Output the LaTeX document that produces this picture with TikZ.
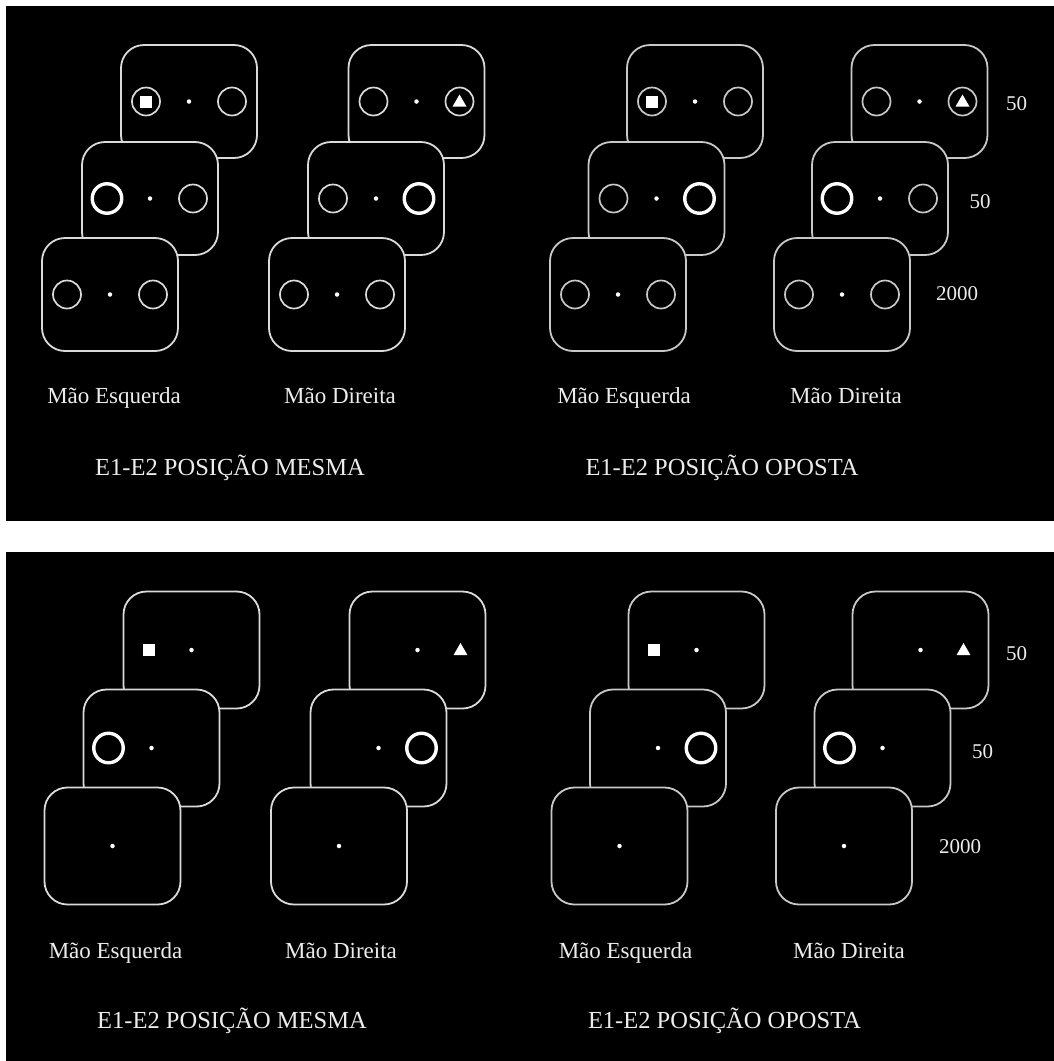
\documentclass[tikz,border=0pt]{standalone}
\usepackage{fontspec}
\setmainfont{Liberation Serif}
\usetikzlibrary{shapes.geometric}
\definecolor{lineL}{RGB}{218,218,218}
\definecolor{lineR}{RGB}{200,200,200}
\definecolor{txt}{RGB}{236,236,236}
\colorlet{lncol}{lineL}
\tikzset{
  frm/.style={rectangle, draw=lncol, line width=1.8pt, fill=black, rounded corners=23pt, minimum width=136pt, inner sep=0pt},
  thinc/.style={circle, draw=lncol, line width=1.7pt, minimum size=28pt, inner sep=0pt},
  boldc/.style={circle, draw=white, line width=3.4pt, minimum size=29.5pt, inner sep=0pt},
  nonec/.style={circle, minimum size=28pt, inner sep=0pt},
  fixdot/.style={circle, fill=white, minimum size=4.5pt, inner sep=0pt},
  sqr/.style={rectangle, fill=white, minimum size=12pt, inner sep=0pt},
  tri/.style={regular polygon, regular polygon sides=3, fill=white, minimum size=16pt, inner sep=0pt, yshift=-1pt},
  lab/.style={text=txt, font=\fontsize{23}{26}\selectfont, anchor=base, inner sep=0pt},
  ttl/.style={text=txt, font=\fontsize{24.5}{28}\selectfont, anchor=base, inner sep=0pt},
  num/.style={text=txt, font=\fontsize{21}{24}\selectfont, anchor=base, inner sep=0pt},
}
% #1 name, #2 x, #3 y, #4 height, #5 left style, #6 right style
\newcommand{\stim}[6]{%
  \node[frm, minimum height=#4] (#1) at (#2,#3) {};
  \node[fixdot] (#1-fix) at (#1.center) {};
  \node[#5] (#1-l) at ([xshift=-43pt]#1.center) {};
  \node[#6] (#1-r) at ([xshift=43pt]#1.center) {};
}
\begin{document}
\begin{tikzpicture}[x=1pt,y=-1pt]
\fill[white] (0,0) rectangle (1054,1061);
\useasboundingbox (0,0) rectangle (1054,1061);
\fill[black] (6,6) rectangle (1054,521);
\fill[black] (6,552) rectangle (1054,1061);

% ================= TOP PANEL =================
\begin{scope}
\colorlet{lncol}{lineL}
% group A
\stim{TAb}{189}{101.5}{113}{thinc}{thinc}
\node[sqr] (TAb-sq) at (TAb-l) {};
\stim{TAm}{150}{198.5}{113}{boldc}{thinc}
\stim{TAf}{110}{294.5}{113}{thinc}{thinc}
% group B
\stim{TBb}{416.5}{101.5}{113}{thinc}{thinc}
\node[tri] (TBb-tri) at (TBb-r) {};
\stim{TBm}{376}{198.5}{113}{thinc}{boldc}
\stim{TBf}{337}{294.5}{113}{thinc}{thinc}
\end{scope}
\begin{scope}
\colorlet{lncol}{lineR}
% group C
\stim{TCb}{695}{101.5}{113}{thinc}{thinc}
\node[sqr] (TCb-sq) at (TCb-l) {};
\stim{TCm}{656.5}{198.5}{113}{thinc}{boldc}
\stim{TCf}{618}{294.5}{113}{thinc}{thinc}
% group D
\stim{TDb}{919.5}{101.5}{113}{thinc}{thinc}
\node[tri] (TDb-tri) at (TDb-r) {};
\stim{TDm}{880}{198.5}{113}{boldc}{thinc}
\stim{TDf}{842}{294.5}{113}{thinc}{thinc}
\end{scope}

\node[lab] (T-le1) at (114,403) {Mão Esquerda};
\node[lab] (T-ld1) at (340,403) {Mão Direita};
\node[lab] (T-le2) at (624,403) {Mão Esquerda};
\node[lab] (T-ld2) at (846,403) {Mão Direita};
\node[ttl] (T-t1) at (230,475) {E1-E2 POSIÇÃO MESMA};
\node[ttl] (T-t2) at (722,475) {E1-E2 POSIÇÃO OPOSTA};
\node[num] (T-n1) at (1016.5,110) {50};
\node[num] (T-n2) at (980,208) {50};
\node[num] (T-n3) at (957,300) {2000};

% ================= BOTTOM PANEL =================
\begin{scope}
\colorlet{lncol}{lineL}
\stim{BAb}{191.5}{650}{117}{nonec}{nonec}
\node[sqr] (BAb-sq) at (BAb-l) {};
\stim{BAm}{151.5}{748}{117}{boldc}{nonec}
\stim{BAf}{112.5}{846}{117}{nonec}{nonec}
\stim{BBb}{417.5}{650}{117}{nonec}{nonec}
\node[tri] (BBb-tri) at (BBb-r) {};
\stim{BBm}{378.5}{748}{117}{nonec}{boldc}
\stim{BBf}{339}{846}{117}{nonec}{nonec}
\end{scope}
\begin{scope}
\colorlet{lncol}{lineR}
\stim{BCb}{696.5}{650}{117}{nonec}{nonec}
\node[sqr] (BCb-sq) at (BCb-l) {};
\stim{BCm}{658}{748}{117}{nonec}{boldc}
\stim{BCf}{619.5}{846}{117}{nonec}{nonec}
\stim{BDb}{920.5}{650}{117}{nonec}{nonec}
\node[tri] (BDb-tri) at (BDb-r) {};
\stim{BDm}{882.5}{748}{117}{boldc}{nonec}
\stim{BDf}{844}{846}{117}{nonec}{nonec}
\end{scope}

\node[lab] (B-le1) at (115.5,958) {Mão Esquerda};
\node[lab] (B-ld1) at (341,958) {Mão Direita};
\node[lab] (B-le2) at (625.5,958) {Mão Esquerda};
\node[lab] (B-ld2) at (849,958) {Mão Direita};
\node[ttl] (B-t1) at (232,1028) {E1-E2 POSIÇÃO MESMA};
\node[ttl] (B-t2) at (724.5,1028) {E1-E2 POSIÇÃO OPOSTA};
\node[num] (B-n1) at (1016.5,660) {50};
\node[num] (B-n2) at (982.5,758) {50};
\node[num] (B-n3) at (960,853) {2000};
\end{tikzpicture}
\end{document}
